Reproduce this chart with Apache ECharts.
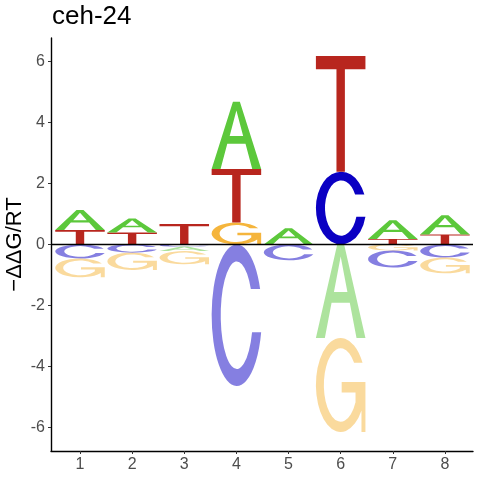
<!DOCTYPE html>
<html>
<head>
    <meta charset="utf-8">
    <title>ceh-24</title>
    <style>
        html, body, #chart {
            margin: 0;
            padding: 0;
            width: 480px;
            height: 480px;
            overflow: hidden;
            background: #ffffff;
        }
    </style>
</head>
<body>
    <div id="chart"></div>
    <script src="https://cdn.jsdelivr.net/npm/echarts@6/dist/echarts.min.js"></script>
    <script type="text/javascript">
        // positions 1..8 and the -ddG/RT value of each base at each position
        var positions = [1, 2, 3, 4, 5, 6, 7, 8];
        var bases = ['A', 'C', 'G', 'T'];
        var valA = [0.66, 0.46, -0.15, 2.21, 0.53, -3.07, 0.62, 0.63];
        var valC = [-0.46, -0.27, -0.07, -4.65, -0.52, 2.39, -0.56, -0.43];
        var valG = [-0.62, -0.57, -0.43, 0.72, 0, -3.09, -0.20, -0.52];
        var valT = [0.47, 0.39, 0.67, 1.76, 0, 3.80, 0.175, 0.33];
        var yTicks = [-6, -4, -2, 0, 2, 4, 6];

        var baseColors = ['#5cc83b', '#0b00c3', '#f5b53c', '#b8261e'];

        // letter outlines in a 100 x 100 box, stretched to each stack cell
        var glyphs = [
            // A
            'M0 100 L43 0 L57 0 L100 100 L82 100 L68.4 62.5 L31.6 62.5 L18 100 Z ' +
            'M50 13 L36.4 51 L63.6 51 Z',
            // C
            'M96.4 31.5 A50 50 0 1 0 98.5 62 L80.4 62 A32 38 0 1 1 77.95 31.5 Z',
            // G
            'M100 47 L100 100 L92 100 L92 77.1 A50 50 0 1 1 94.1 26.5 L77.1 26.5 ' +
            'A34 39 0 1 0 80 68.4 L80 58 L52 58 L52 47 Z',
            // T
            'M0 0 L100 0 L100 11.5 L58.5 11.5 L58.5 100 L41.5 100 L41.5 11.5 L0 11.5 Z'
        ];

        // stack letters: positives grow upward (small at bottom), negatives downward
        var allVals = [valA, valC, valG, valT];
        var cells = [];
        positions.forEach(function (p, i) {
            var items = [];
            for (var b = 0; b < bases.length; b++) {
                if (allVals[b][i] !== 0) items.push({ b: b, v: allVals[b][i] });
            }
            items.sort(function (m, n) { return Math.abs(m.v) - Math.abs(n.v); });
            var up = 0, down = 0;
            items.forEach(function (it) {
                if (it.v > 0) {
                    cells.push([p, up, up + it.v, it.b, 0]);
                    up += it.v;
                } else {
                    cells.push([p, down, down + it.v, it.b, 1]);
                    down += it.v;
                }
            });
        });

        var myChart = echarts.init(document.getElementById('chart'), null, { renderer: 'canvas' });

        myChart.setOption({
            animation: false,
            title: {
                text: 'ceh-24',
                left: 52,
                top: 4,
                padding: 0,
                textStyle: {
                    fontFamily: 'Liberation Sans',
                    fontSize: 26,
                    fontWeight: 'normal',
                    color: '#000000'
                }
            },
            grid: {
                left: 51,
                right: 7,
                top: 38,
                bottom: 29,
                containLabel: false,
                outerBoundsMode: 'none'
            },
            xAxis: {
                type: 'value',
                min: 0.444,
                max: 8.538,
                splitLine: { show: false },
                axisLine: { onZero: false, lineStyle: { color: '#000000', width: 1.4 } },
                axisTick: {
                    length: 3,
                    customValues: positions,
                    lineStyle: { color: '#333333', width: 1 }
                },
                axisLabel: {
                    customValues: positions,
                    margin: 6,
                    fontFamily: 'Liberation Sans',
                    fontSize: 16,
                    color: '#4d4d4d'
                }
            },
            yAxis: {
                type: 'value',
                min: -6.785,
                max: 6.78,
                name: '\u2212\u0394\u0394G/RT',
                nameLocation: 'middle',
                nameRotate: 90,
                nameGap: 25,
                nameMoveOverlap: false,
                nameTextStyle: {
                    fontFamily: 'Liberation Sans',
                    fontSize: 22,
                    color: '#000000'
                },
                splitLine: { show: false },
                axisLine: { onZero: false, lineStyle: { color: '#000000', width: 1.4 } },
                axisTick: {
                    length: 3,
                    customValues: yTicks,
                    lineStyle: { color: '#333333', width: 1 }
                },
                axisLabel: {
                    customValues: yTicks,
                    margin: 6,
                    fontFamily: 'Liberation Sans',
                    fontSize: 16,
                    color: '#4d4d4d'
                }
            },
            series: [{
                type: 'custom',
                data: cells,
                encode: { x: 0, y: [1, 2] },
                renderItem: function (params, api) {
                    var p = api.value(0);
                    var y0 = api.value(1);
                    var y1 = api.value(2);
                    var b = api.value(3);
                    var neg = api.value(4);
                    var tl = api.coord([p - 0.475, Math.max(y0, y1)]);
                    var br = api.coord([p + 0.475, Math.min(y0, y1)]);
                    return {
                        type: 'path',
                        shape: {
                            pathData: glyphs[b],
                            x: tl[0],
                            y: tl[1],
                            width: br[0] - tl[0],
                            height: br[1] - tl[1],
                            layout: 'cover'
                        },
                        style: {
                            fill: baseColors[b],
                            opacity: neg ? 0.5 : 1
                        }
                    };
                },
                markLine: {
                    silent: true,
                    symbol: 'none',
                    label: { show: false },
                    lineStyle: { color: '#000000', width: 1.3, type: 'solid' },
                    data: [{ yAxis: 0 }]
                }
            }]
        });
    </script>
</body>
</html>
